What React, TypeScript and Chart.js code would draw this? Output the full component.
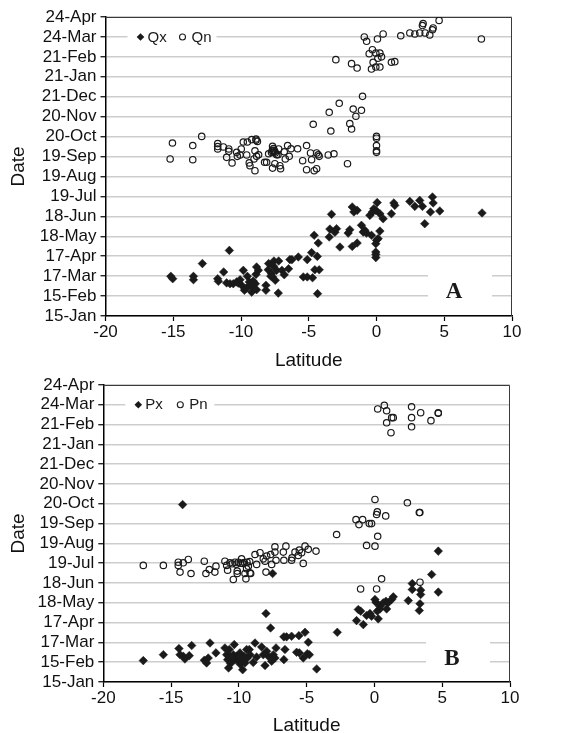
import React, { useEffect, useRef } from 'react';
import { Chart, registerables } from 'chart.js';
Chart.register(...registerables);

// Y tick labels, bottom to top (one per axis step)
const DATE_LABELS = ['15-Jan', '15-Feb', '17-Mar', '17-Apr', '18-May', '18-Jun', '19-Jul', '19-Aug', '19-Sep', '20-Oct', '20-Nov', '21-Dec', '21-Jan', '21-Feb', '24-Mar', '24-Apr'];
const LAT_MIN = -20;
const LAT_MAX = 10;
const LAT_STEP = 5;

// Panel A — [latitude, date step]
const qxPoints: [number, number][] = [
  [-15.18, 1.99], [-15.04, 1.87], [-13.51, 1.99], [-13.51, 1.82], [-12.85, 2.63], [-11.72, 1.87], [-11.67, 1.74], [-11.28, 2.21], [-10.86, 3.29],
  [-11.06, 1.66], [-10.81, 1.62], [-10.57, 1.62], [-10.32, 1.71], [-10.07, 1.82], [-9.83, 2.29], [-9.95, 1.54], [-9.75, 1.29], [-9.53, 1.99], [-9.39, 1.71], [-9.34, 1.54], [-9.21, 1.2], [-9.04, 1.37], [-8.89, 2.09], [-8.85, 2.46], [-8.72, 2.29], [-8.94, 1.62], [-8.85, 1.32],
  [-9.6, 1.4], [-9.1, 1.75], [-10.2, 1.65],
  [-8.16, 1.54], [-8.16, 1.29], [-7.96, 2.63], [-7.99, 2.32], [-7.74, 2.12], [-7.67, 1.96], [-7.57, 2.76], [-7.47, 1.79], [-7.37, 2.29], [-7.22, 2.76], [-7.25, 1.15], [-6.98, 2.29], [-6.81, 2.07], [-6.49, 2.37], [-6.39, 2.83], [-6.24, 2.83], [-5.77, 2.96], [-5.4, 1.96], [-5.11, 1.96], [-5.11, 2.83], [-4.79, 3.18], [-4.72, 1.92], [-4.6, 4.05], [-4.55, 2.32], [-4.37, 2.99], [-4.23, 2.32], [-4.3, 3.66], [-4.35, 1.12],
  [-7.6, 2.5], [-7.8, 2.0],
  [-3.32, 5.1], [-3.49, 3.96], [-3.44, 4.36], [-3.07, 4.2], [-2.95, 4.38], [-2.7, 3.46], [-2.09, 4.16], [-1.97, 4.33], [-1.79, 5.47], [-1.67, 5.22], [-1.43, 5.3], [-1.79, 3.49], [-1.43, 3.66], [-1.11, 4.55], [-0.98, 4.21], [-0.86, 4.3], [-0.74, 4.16], [-0.37, 4.05], [-0.49, 5.05], [-0.3, 5.22], [-0.2, 5.38], [-0.05, 5.3], [0.05, 5.69], [0.25, 5.13], [0.49, 4.88], [0.25, 4.26], [0, 3.8], [0.12, 3.88], [-0.05, 3.63], [-0.05, 3.21], [-0.05, 3.09], [-0.05, 2.93],
  [1.1, 5.13], [1.28, 5.67], [1.35, 5.55], [2.46, 5.75], [2.83, 5.5], [3.19, 5.8], [3.39, 5.5], [3.56, 4.63], [3.98, 5.22], [4.13, 5.97], [4.18, 5.67], [4.67, 5.27], [7.79, 5.17],
];

const qnPoints: [number, number][] = [
  [-15.23, 7.88], [-15.06, 8.68], [-13.56, 8.55], [-13.56, 7.84], [-12.9, 9.01],
  [-11.72, 8.65], [-11.72, 8.5], [-11.72, 8.38], [-11.3, 8.48], [-10.9, 8.38], [-10.9, 8.26], [-11.06, 7.96], [-10.66, 7.68],
  [-10.32, 8.21], [-10.27, 8.01], [-9.98, 8.38], [-10.07, 8.08], [-9.83, 8.73], [-9.53, 8.73], [-9.58, 8.08], [-9.39, 7.68], [-9.34, 7.54],
  [-9.21, 8.85], [-8.89, 8.88], [-8.79, 8.76], [-8.89, 8.82], [-8.97, 8.29], [-9.04, 7.88], [-8.85, 8.01], [-8.7, 8.09], [-8.97, 7.29],
  [-8.26, 7.71], [-8.11, 7.71], [-7.96, 8.14], [-7.67, 8.51], [-7.62, 8.21], [-7.57, 8.31], [-7.47, 8.18], [-7.37, 8.09], [-7.22, 8.38], [-7.27, 8.09],
  [-7.7, 8.3], [-7.75, 8.2], [-7.6, 8.4], [-7.5, 8.25],
  [-7.67, 7.42], [-7.5, 7.64], [-7.13, 7.54], [-7.08, 7.39], [-6.81, 8.24], [-6.73, 7.88], [-6.56, 8.55], [-6.44, 8.01], [-6.31, 8.39], [-5.82, 8.39],
  [-5.45, 7.79], [-5.16, 8.55], [-5.16, 7.34], [-4.87, 8.18], [-4.79, 7.84], [-4.6, 7.29], [-4.42, 8.18], [-4.42, 7.39], [-4.3, 8.09], [-4.23, 8.01],
  [-3.56, 8.08], [-3.14, 8.14], [-2.14, 7.64], [-3.37, 9.28], [-4.67, 9.62], [-1.97, 9.65], [-1.84, 9.38], [-3.49, 10.22], [-2.75, 10.67], [-1.52, 10.02], [-1.72, 10.38], [-1.11, 10.32], [-1.03, 11.02],
  [0, 9.01], [0, 8.92], [0, 8.55], [0, 8.29], [0, 8.21],
  [-3.0, 12.86], [-1.84, 12.66], [-1.43, 12.44], [-0.54, 13.16], [-0.3, 13.36], [-0.05, 13.19], [0.25, 13.19], [-0.25, 12.73], [0.1, 12.93], [0.37, 13.0], [-0.37, 12.39], [-0.05, 12.49], [0.25, 12.49], [1.1, 12.73], [1.35, 12.76],
  [-0.9, 14.0], [-0.73, 13.78], [0.07, 13.9], [0.49, 14.15], [1.79, 14.06], [2.46, 14.2], [2.83, 14.15], [3.19, 14.2], [3.59, 14.2], [3.93, 14.1], [3.39, 14.57], [3.44, 14.67], [4.13, 14.36], [4.18, 14.45], [4.62, 14.83], [7.74, 13.9],
];

// Panel B — [latitude, date step]
const pxPoints: [number, number][] = [
  [-17.05, 1.08], [-15.57, 1.38], [-14.42, 1.69], [-14.34, 1.38], [-14.1, 1.3], [-13.98, 1.16], [-13.66, 1.33], [-13.48, 1.84],
  [-12.55, 1.1], [-12.38, 0.96], [-12.26, 1.21], [-12.13, 1.97], [-11.69, 1.47], [-11.03, 1.72], [-10.9, 1.38], [-10.83, 1.13], [-10.71, 1.64], [-10.66, 1.3], [-10.61, 0.93], [-10.76, 0.71],
  [-10.41, 1.38], [-10.34, 1.89], [-10.29, 1.13], [-10.17, 1.3], [-10.04, 1.05], [-9.92, 1.47], [-9.8, 1.16], [-9.72, 0.62], [-9.62, 1.3], [-9.55, 0.96], [-9.43, 1.64], [-9.38, 1.21], [-9.23, 1.64], [-9.18, 1.38],
  [-10.0, 1.25], [-9.7, 1.05], [-10.5, 1.2], [-9.9, 0.9],
  [-8.94, 0.99], [-8.81, 1.97], [-8.69, 1.26], [-8.32, 1.77], [-8.2, 1.38], [-8.07, 0.83], [-8.0, 3.46], [-7.95, 1.55], [-7.83, 1.3], [-7.66, 2.73], [-7.58, 1.05], [-7.46, 1.38], [-7.26, 1.72], [-7.34, 1.21], [-7.51, 5.48],
  [-6.68, 2.28], [-6.6, 1.64], [-6.68, 1.13], [-6.48, 2.28], [-6.11, 2.31], [-5.74, 1.5], [-5.57, 2.34], [-5.54, 1.47], [-5.25, 1.21], [-5.12, 2.51], [-4.95, 1.43], [-4.88, 2.01], [-4.8, 1.38], [-4.26, 0.66],
  [-14.15, 8.96],
  [-2.74, 2.51], [-1.32, 3.1], [-1.19, 3.66], [-1.02, 3.58], [-0.82, 2.9], [-0.58, 3.36], [-0.33, 3.46], [-0.21, 3.32], [0.04, 4.17], [0.11, 4.03], [0.21, 3.58], [0.28, 3.19], [0.41, 3.83], [0.41, 3.69], [0.65, 4.0], [0.85, 4.08], [0.9, 3.69], [1.02, 4.0], [1.27, 4.17], [1.39, 4.3],
  [2.5, 4.11], [2.79, 4.97], [2.79, 4.67], [3.31, 3.61], [3.36, 3.95], [3.41, 4.64], [3.41, 4.42], [4.22, 5.43], [4.71, 4.54], [4.71, 6.61],
];

const pnPoints: [number, number][] = [
  [0.24, 13.79], [0.73, 13.97], [0.9, 13.7], [1.27, 13.35], [1.39, 13.35], [0.9, 13.09], [1.22, 12.59], [2.74, 13.9], [3.41, 13.6], [2.74, 13.35], [2.74, 12.89], [4.17, 13.2], [4.71, 13.57], [4.71, 13.6],
  [0.04, 9.22], [2.43, 9.05], [3.31, 8.56], [3.35, 8.56], [0.21, 8.59], [0.16, 8.46], [0.83, 8.39], [-1.36, 8.2], [-0.87, 8.2], [-1.14, 7.95], [-0.38, 8.0], [-0.21, 8.0], [0.24, 7.36], [-2.79, 7.45],
  [-0.58, 6.9], [0.04, 6.86], [0.53, 5.21], [-1.02, 4.7], [0.16, 4.7], [3.36, 5.04],
  [-17.05, 5.89], [-15.57, 5.89], [-14.47, 6.05], [-14.47, 5.89], [-14.1, 6.02], [-13.73, 6.19], [-14.34, 5.55], [-13.53, 5.48],
  [-12.55, 6.1], [-12.43, 5.48], [-12.18, 5.68], [-11.77, 5.55], [-11.69, 5.85], [-11.03, 6.1], [-10.9, 5.89], [-10.83, 5.65], [-10.66, 6.02], [-10.41, 5.18], [-10.12, 5.6], [-10.12, 5.48],
  [-10.29, 6.05], [-10.04, 6.05], [-9.8, 6.22], [-9.72, 5.99], [-9.55, 5.48], [-9.48, 5.21], [-9.43, 5.72], [-9.3, 5.85], [-9.18, 5.51], [-9.13, 5.48],
  [-10.5, 5.97], [-10.2, 5.95], [-9.9, 6.0], [-9.6, 6.03], [-9.4, 6.05], [-9.2, 6.08],
  [-8.81, 6.44], [-8.69, 5.94], [-8.44, 6.53], [-8.2, 6.22], [-8.07, 6.1], [-7.95, 6.36], [-8.0, 5.55], [-7.66, 6.44], [-7.58, 5.94], [-7.34, 6.83], [-7.34, 6.56], [-7.26, 6.15],
  [-6.72, 6.56], [-6.68, 6.15], [-6.53, 6.86], [-6.11, 6.15], [-6.08, 6.27], [-5.86, 6.56], [-5.62, 6.39], [-5.54, 6.66], [-5.37, 6.53], [-5.25, 5.99], [-5.12, 6.86], [-4.88, 6.7], [-4.31, 6.61],
];

const FONT = "'Liberation Sans', Arial, Helvetica, sans-serif";

const decorPlugin = {
  id: 'decor',
  beforeDatasetsDraw(chart: any) {
    const { ctx, chartArea: ca } = chart;
    const y = chart.scales.y;
    ctx.save();
    ctx.fillStyle = '#ffffff';
    const ly = y.getPixelForValue(14);
    ctx.fillRect(ca.left + 22, ly - 4, 89, 8);
    const t = y.getPixelForValue(2.5);
    const b = y.getPixelForValue(0.5);
    ctx.fillRect(ca.right - 84, t, 64, b - t);
    // top / right frame
    ctx.strokeStyle = '#3a3a3a';
    ctx.lineWidth = 1;
    ctx.beginPath();
    ctx.moveTo(ca.left, ca.top + 0.5);
    ctx.lineTo(ca.right - 0.5, ca.top + 0.5);
    ctx.lineTo(ca.right - 0.5, ca.bottom);
    ctx.stroke();
    ctx.restore();
  },
  afterDatasetsDraw(chart: any, _a: any, opts: any) {
    const { ctx, chartArea: ca } = chart;
    const y = chart.scales.y;
    const ly = y.getPixelForValue(14);
    const ds = chart.data.datasets;
    ctx.save();
    // diamond marker
    const dx = ca.left + 35;
    ctx.fillStyle = '#1a1a1a';
    ctx.beginPath();
    ctx.moveTo(dx, ly - 3.8);
    ctx.lineTo(dx + 3.8, ly);
    ctx.lineTo(dx, ly + 3.8);
    ctx.lineTo(dx - 3.8, ly);
    ctx.closePath();
    ctx.fill();
    // circle marker
    ctx.strokeStyle = '#1a1a1a';
    ctx.lineWidth = 1.1;
    ctx.beginPath();
    ctx.arc(ca.left + 77, ly, 3, 0, Math.PI * 2);
    ctx.stroke();
    ctx.font = `15px ${FONT}`;
    ctx.textBaseline = 'middle';
    ctx.textAlign = 'left';
    ctx.fillStyle = '#1a1a1a';
    ctx.fillText(ds[0].label, ca.left + 42, ly + 0.5);
    ctx.fillText(ds[1].label, ca.left + 86, ly + 0.5);
    // panel letter
    ctx.font = "bold 23px 'Liberation Serif', 'Times New Roman', serif";
    ctx.textAlign = 'center';
    ctx.fillText(opts.letter, ca.right - 58, y.getPixelForValue(1.18));
    ctx.restore();
  },
};

type PanelProps = {
  top: number;
  height: number;
  axisWidth: number;
  xAxisHeight: number;
  padRight: number;
  filled: [number, number][];
  open: [number, number][];
  filledLabel: string;
  openLabel: string;
  letter: string;
};

function PanelChart(p: PanelProps) {
  const ref = useRef<HTMLCanvasElement | null>(null);
  useEffect(() => {
    if (!ref.current) return;
    const chart = new Chart(ref.current, {
      type: 'scatter',
      data: {
        datasets: [
          {
            label: p.filledLabel,
            data: p.filled.map(([x, y]) => ({ x, y })),
            pointStyle: 'rectRot',
            pointRadius: 4.3,
            pointBackgroundColor: '#1a1a1a',
            pointBorderColor: '#1a1a1a',
            pointBorderWidth: 0.5,
          },
          {
            label: p.openLabel,
            data: p.open.map(([x, y]) => ({ x, y })),
            pointStyle: 'circle',
            pointRadius: 3.2,
            pointBackgroundColor: 'rgba(0,0,0,0)',
            pointBorderColor: '#1a1a1a',
            pointBorderWidth: 1.2,
          },
        ],
      },
      options: {
        animation: false,
        responsive: false,
        events: [],
        layout: { padding: { top: 17, right: p.padRight, bottom: 0, left: 0 } },
        scales: {
          x: {
            type: 'linear',
            min: LAT_MIN,
            max: LAT_MAX,
            afterFit: (s: any) => { s.height = p.xAxisHeight; },
            ticks: {
              stepSize: LAT_STEP,
              padding: 1,
              color: '#111',
              autoSkip: false,
              maxRotation: 0,
              font: { family: FONT, size: 17 },
              callback: (v: any) => String(v),
            },
            grid: { drawOnChartArea: false, drawTicks: true, tickLength: 5, tickColor: '#000', tickWidth: 1.2 },
            border: { color: '#000', width: 1.5 },
            title: { display: true, text: 'Latitude', color: '#111', font: { family: FONT, size: 19 }, padding: { top: 0, bottom: 0 } },
          },
          y: {
            type: 'linear',
            min: 0,
            max: DATE_LABELS.length - 1,
            afterFit: (s: any) => { s.width = p.axisWidth; },
            ticks: {
              stepSize: 1,
              padding: 4,
              color: '#111',
              autoSkip: false,
              font: { family: FONT, size: 17 },
              callback: (v: any) => DATE_LABELS[v] ?? '',
            },
            grid: { color: '#cdcdcd', lineWidth: 1.5, drawTicks: true, tickLength: 5, tickColor: '#000', tickWidth: 1.2 },
            border: { color: '#000', width: 1.5 },
            title: { display: true, text: 'Date', color: '#111', font: { family: FONT, size: 19 }, padding: { top: 7, bottom: 0 } },
          },
        },
        plugins: {
          legend: { display: false },
          tooltip: { enabled: false },
          decor: { letter: p.letter },
        } as any,
      },
      plugins: [decorPlugin as any],
    });
    return () => chart.destroy();
  }, []);
  return (
    <canvas
      ref={ref}
      width={582}
      height={p.height}
      style={{ position: 'absolute', left: 0, top: p.top, width: 582, height: p.height }}
    />
  );
}

export default function App() {
  return (
    <div style={{ position: 'fixed', left: 0, top: 0, width: 582, height: 733, overflow: 'hidden', background: '#fff' }}>
      <PanelChart top={0} height={372} axisWidth={105.5} xAxisHeight={56} padRight={70}
        filled={qxPoints} open={qnPoints} filledLabel="Qx" openLabel="Qn" letter="A" />
      <PanelChart top={368} height={369} axisWidth={103.3} xAxisHeight={55} padRight={72}
        filled={pxPoints} open={pnPoints} filledLabel="Px" openLabel="Pn" letter="B" />
    </div>
  );
}
